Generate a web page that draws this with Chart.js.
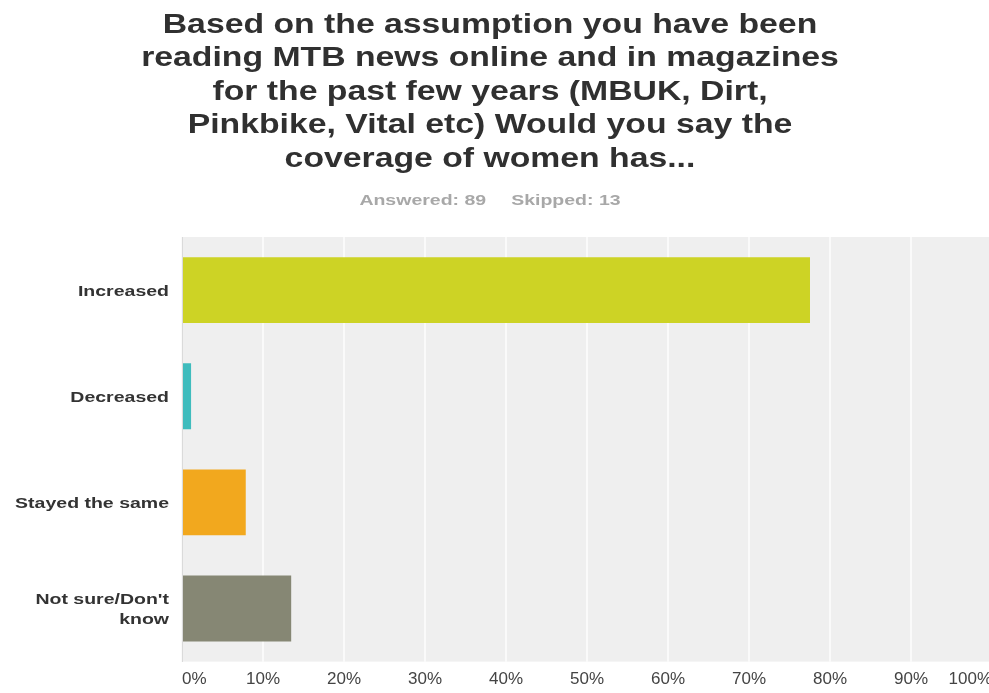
<!DOCTYPE html>
<html>
<head>
<meta charset="utf-8">
<script src="https://cdn.jsdelivr.net/npm/chart.js@4/dist/chart.umd.min.js"></script>
<style>
  html, body { margin: 0; padding: 0; background: #ffffff; overflow: hidden; }
  #wrap { position: absolute; left: 0; top: 0; width: 1000px; height: 693px; }
</style>
</head>
<body>
<div id="wrap"><canvas id="chart" width="1000" height="693"></canvas></div>
<script>
// Survey question and response counts
const questionLines = [
  'Based on the assumption you have been',
  'reading MTB news online and in magazines',
  'for the past few years (MBUK, Dirt,',
  'Pinkbike, Vital etc) Would you say the',
  'coverage of women has...'
];
const answered = 89;
const skipped = 13;
const categories = ['Increased', 'Decreased', 'Stayed the same', ["Not sure/Don't", 'know']];
const percentages = [77.53, 1.12, 7.87, 13.48];
const tickValues = [0, 10, 20, 30, 40, 50, 60, 70, 80, 90, 100];

const barColors = ['#cdd325', '#3fbcbd', '#f2a81e', '#868774'];
const FONT = '"Liberation Sans", Arial, sans-serif';

// Grey panel behind the bars
const plotBackground = {
  id: 'plotBackground',
  beforeDraw(chart) {
    const { ctx, chartArea: a } = chart;
    ctx.save();
    ctx.fillStyle = '#efefef';
    ctx.fillRect(a.left, a.top, a.right - a.left, a.bottom - a.top);
    ctx.restore();
  }
};

// Text drawn with wide lettering (horizontal stretch)
function wideText(ctx, text, x, y, align, font, color, stretch) {
  ctx.save();
  ctx.font = font;
  ctx.fillStyle = color;
  ctx.textAlign = align;
  ctx.textBaseline = 'alphabetic';
  ctx.translate(x, y);
  ctx.scale(stretch, 1);
  ctx.fillText(text, 0, 0);
  ctx.restore();
}

// Heading, response summary and row labels
const headingAndLabels = {
  id: 'headingAndLabels',
  afterDraw(chart) {
    const { ctx, chartArea: a, scales } = chart;
    const cx = 490;

    questionLines.forEach((line, i) => {
      wideText(ctx, line, cx, 32.5 + i * 33.5, 'center', 'bold 27px ' + FONT, '#303030', 1.25);
    });

    const subFont = 'bold 15px ' + FONT;
    const left = 'Answered: ' + answered;
    const right = 'Skipped: ' + skipped;
    ctx.font = subFont;
    const gap = 25;
    const wl = ctx.measureText(left).width * 1.3;
    const wr = ctx.measureText(right).width * 1.3;
    const start = cx - (wl + gap + wr) / 2;
    wideText(ctx, left, start, 204.5, 'left', subFont, '#a8a8a8', 1.3);
    wideText(ctx, right, start + wl + gap, 204.5, 'left', subFont, '#a8a8a8', 1.3);

    const labFont = 'bold 15px ' + FONT;
    const xr = a.left - 13;
    categories.forEach((lab, i) => {
      const yc = scales.y.getPixelForTick(i);
      const lines = Array.isArray(lab) ? lab : [lab];
      const lh = 20;
      const y0 = yc - (lines.length - 1) * lh / 2 + 5.5;
      lines.forEach((ln, j) => wideText(ctx, ln, xr, y0 + j * lh, 'right', labFont, '#333333', 1.3));
    });
  }
};

new Chart(document.getElementById('chart'), {
  type: 'bar',
  data: {
    labels: categories,
    datasets: [{
      data: percentages,
      backgroundColor: barColors,
      borderWidth: 0,
      barPercentage: 0.62,
      categoryPercentage: 1.0
    }]
  },
  plugins: [plotBackground, headingAndLabels],
  options: {
    indexAxis: 'y',
    responsive: false,
    animation: false,
    devicePixelRatio: 1,
    layout: { padding: { top: 237, left: 0, right: 7, bottom: -5 } },
    plugins: {
      legend: { display: false },
      tooltip: { enabled: false },
      title: { display: false }
    },
    scales: {
      x: {
        min: 0,
        max: 100,
        afterBuildTicks(scale) { scale.ticks = tickValues.map(v => ({ value: v })); },
        grid: { color: '#fafafa', lineWidth: 2, drawTicks: false },
        border: { display: false },
        ticks: {
          align: 'inner',
          padding: 8,
          color: '#444444',
          font: { family: FONT, size: 17 },
          callback: v => v + '%'
        }
      },
      y: {
        afterFit(scale) { scale.width = 182; },
        grid: { display: false, drawTicks: false },
        border: { display: true, color: '#dadada', width: 1 },
        ticks: { display: false }
      }
    }
  }
});
</script>
</body>
</html>
